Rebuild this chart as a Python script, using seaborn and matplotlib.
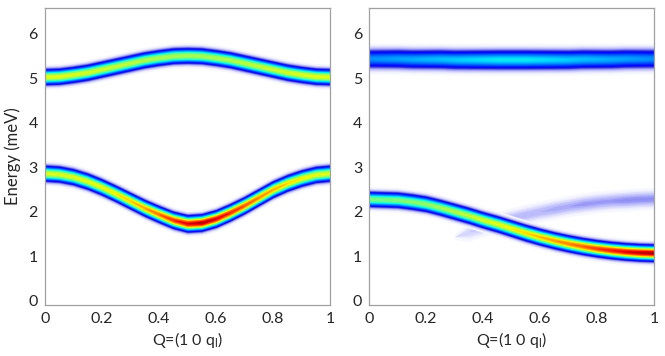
import numpy as np
import matplotlib
matplotlib.use("Agg")
import matplotlib.pyplot as plt
from matplotlib.colors import LinearSegmentedColormap
import seaborn as sns

# momentum points along (1 0 ql)
q = [0.00, 0.05, 0.10, 0.15, 0.20, 0.25, 0.30, 0.35, 0.40, 0.45, 0.50,
     0.55, 0.60, 0.65, 0.70, 0.75, 0.80, 0.85, 0.90, 0.95, 1.00]

# left panel: two modes (centre energy in meV, peak intensity 0..1)
left_upper_E = [5.04, 5.05, 5.09, 5.14, 5.21, 5.28, 5.35, 5.42, 5.47, 5.51, 5.52,
                5.51, 5.47, 5.42, 5.35, 5.28, 5.21, 5.14, 5.09, 5.05, 5.04]
left_upper_I = [0.63, 0.63, 0.62, 0.61, 0.60, 0.59, 0.58, 0.57, 0.56, 0.56, 0.56,
                0.56, 0.56, 0.57, 0.58, 0.59, 0.60, 0.61, 0.62, 0.63, 0.63]
left_lower_E = [2.87, 2.85, 2.79, 2.69, 2.56, 2.41, 2.25, 2.09, 1.95, 1.82, 1.74,
                1.76, 1.85, 1.99, 2.15, 2.33, 2.51, 2.65, 2.76, 2.84, 2.87]
left_lower_I = [0.62, 0.62, 0.62, 0.63, 0.64, 0.66, 0.69, 0.73, 0.78, 0.85, 0.91,
                0.95, 0.91, 0.86, 0.81, 0.76, 0.72, 0.68, 0.65, 0.63, 0.62]

# right panel: flat upper mode, dispersive lower mode and a faint branch
right_upper_E = [5.45, 5.45, 5.45, 5.44, 5.44, 5.44, 5.43, 5.43, 5.43, 5.43, 5.43,
                 5.43, 5.43, 5.43, 5.43, 5.44, 5.44, 5.44, 5.45, 5.45, 5.45]
right_upper_I = [0.27, 0.28, 0.29, 0.30, 0.31, 0.32, 0.33, 0.34, 0.35, 0.36, 0.36,
                 0.36, 0.35, 0.34, 0.33, 0.32, 0.31, 0.30, 0.29, 0.28, 0.27]
right_lower_E = [2.29, 2.28, 2.27, 2.23, 2.18, 2.10, 2.01, 1.92, 1.82, 1.73, 1.63,
                 1.53, 1.44, 1.36, 1.29, 1.23, 1.18, 1.14, 1.11, 1.09, 1.08]
right_lower_I = [0.50, 0.50, 0.51, 0.52, 0.53, 0.55, 0.57, 0.59, 0.61, 0.63, 0.65,
                 0.68, 0.71, 0.74, 0.77, 0.80, 0.84, 0.88, 0.91, 0.94, 0.96]
right_faint_E = [np.nan, np.nan, np.nan, np.nan, np.nan, np.nan, 1.44, 1.55, 1.67, 1.77, 1.86,
                 1.94, 2.01, 2.07, 2.13, 2.18, 2.22, 2.25, 2.27, 2.29, 2.30]
right_faint_I = [np.nan, np.nan, np.nan, np.nan, np.nan, np.nan, 0.005, 0.025, 0.035, 0.04, 0.04,
                 0.04, 0.04, 0.045, 0.045, 0.05, 0.05, 0.05, 0.055, 0.055, 0.055]

sigma_sharp = 0.09
sigma_broad = 0.12
sigma_faint = 0.11

# jet with a white / lavender foot for low intensity
jet = plt.get_cmap("jet")
nodes = [(0.0, (1, 1, 1)), (0.012, (0.9, 0.9, 1.0)), (0.045, (0.62, 0.62, 0.97)),
         (0.09, (0.15, 0.15, 0.85))]
nodes += [(p, jet(p)[:3]) for p in np.linspace(0.13, 1.0, 30)]
cmap = LinearSegmentedColormap.from_list("white_jet", nodes)
levels = np.linspace(0.004, 0.99, 160)


def draw_band(ax, E, I, sigma):
    E = np.array(E, dtype=float)
    I = np.array(I, dtype=float)
    for lev in levels:
        ratio = np.where(I > lev, I / lev, 1.0)
        if not np.any(ratio > 1):
            continue
        w = sigma * np.sqrt(2 * np.log(ratio))
        ax.fill_between(q, E - w, E + w, color=cmap(lev), linewidth=0)


sns.set_style("white")
plt.rcParams["font.family"] = ["Lato", "DejaVu Sans"]
txt = "#262626"

fig = plt.figure(figsize=(6.65, 3.56), dpi=100)
ax1 = fig.add_axes([0.0672, 0.144, 0.429, 0.833])
ax2 = fig.add_axes([0.5553, 0.144, 0.428, 0.833])

draw_band(ax1, left_upper_E, left_upper_I, sigma_sharp)
draw_band(ax1, left_lower_E, left_lower_I, sigma_sharp)
draw_band(ax2, right_upper_E, right_upper_I, sigma_broad)
draw_band(ax2, right_faint_E, right_faint_I, sigma_faint)
draw_band(ax2, right_lower_E, right_lower_I, sigma_sharp)

for ax in (ax1, ax2):
    ax.set_xlim(0, 1)
    ax.set_ylim(-0.09, 6.58)
    ax.set_xticks([0, 0.2, 0.4, 0.6, 0.8, 1])
    ax.set_xticklabels(["0", "0.2", "0.4", "0.6", "0.8", "1"])
    ax.set_yticks([0, 1, 2, 3, 4, 5, 6])
    ax.tick_params(length=0, pad=5, labelsize=11.5, labelcolor=txt)
    for s in ax.spines.values():
        s.set_color("#a0a0a0")
        s.set_linewidth(0.9)
    ax.set_xlabel(r"Q=(1 0 q$_\mathregular{l}$)", fontsize=11.5, color=txt, labelpad=3)

ax1.set_ylabel("Energy (meV)", fontsize=12, color=txt, labelpad=5)

fig.savefig("out.png", dpi=100)
